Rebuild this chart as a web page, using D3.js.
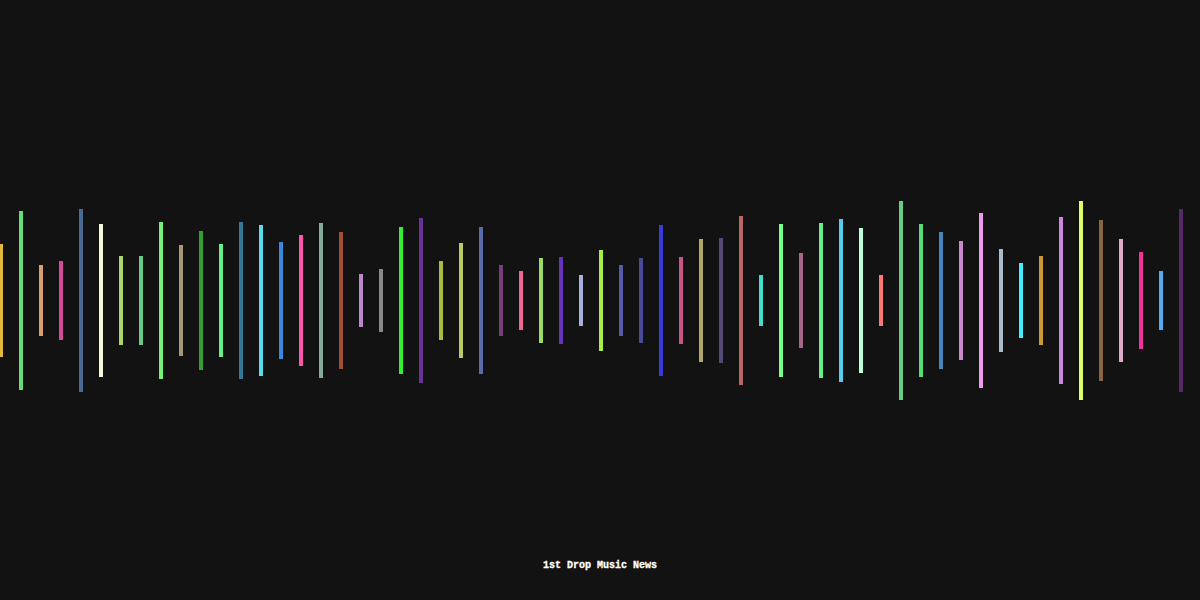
<!DOCTYPE html>
<html>
<head>
<meta charset="utf-8">
<script src="https://cdn.jsdelivr.net/npm/d3@7"></script>
<style>
  html, body { margin: 0; padding: 0; background: #121212; }
  .caption { fill: #ffffff; font-family: "Courier New", "Liberation Mono", monospace; font-weight: bold; font-size: 10px; letter-spacing: 0px; }
</style>
</head>
<body>
<div id="chart"></div>
<script>
var w = 1200;
var h = 600;
var mid = 300.5;

// bar heights (px), one per bar, left to right
var levels = [113,179,71,79,183,153,89,89,157,111,
              139,113,157,151,117,131,155,137,53,63,
              147,165,79,115,147,71,59,85,87,51,
              101,71,85,151,87,123,125,169,51,153,
              95,155,163,145,51,199,153,137,119,175,
              103,75,89,167,199,161,123,97,59,183];

var colors = ["#e3b83c","#66dd77","#dba06a","#d64a9a","#4a6a94","#f4f8d8","#a8d86a","#66cc88","#77ee77","#a89878",
              "#33a033","#66ee88","#337799","#55ddee","#3a88dd","#ff55aa","#88aa99","#a05030","#bb88cc","#888888",
              "#33ee33","#663399","#aabb44","#bbcc66","#5a6aaa","#773f77","#ee6699","#99dd66","#6633bb","#aab0dd",
              "#aaee44","#5a5aaa","#4a4a99","#3a3add","#cc5588","#b0aa66","#554a77","#bb6666","#44ddcc","#77ff88",
              "#aa6688","#66ee88","#55ccee","#bbffdd","#ff7777","#66cc88","#55dd77","#4488bb","#cc88cc","#ee99ee",
              "#aabbcc","#44eeff","#cc9933","#cc88dd","#ddff66","#886644","#ddaacc","#ee3399","#55aaee","#552a66"];

var caption = "1st Drop Music News";

var svg = d3.select("#chart")
  .append("svg")
  .attr("width", w)
  .attr("height", h)
  .style("display", "block");

svg.append("rect")
  .attr("width", w)
  .attr("height", h)
  .attr("fill", "#121212");

var x = d3.scaleBand()
  .domain(d3.range(levels.length))
  .range([-9, 1191])
  .paddingInner(0.8)
  .paddingOuter(0.4);

var y = d3.scaleLinear()
  .domain([0, 200])
  .range([0, 200]);

svg.selectAll("rect.bar")
  .data(levels)
  .enter()
  .append("rect")
  .attr("class", "bar")
  .attr("x", function(d, i) { return x(i); })
  .attr("y", function(d) { return mid - y(d) / 2; })
  .attr("width", x.bandwidth())
  .attr("height", function(d) { return y(d); })
  .attr("fill", function(d, i) { return colors[i]; })
  .attr("shape-rendering", "crispEdges");

svg.append("text")
  .attr("class", "caption")
  .attr("x", w / 2)
  .attr("y", 568)
  .attr("text-anchor", "middle")
  .style("stroke", "#ffffff")
  .style("stroke-width", 0.3)
  .text(caption);
</script>
</body>
</html>
